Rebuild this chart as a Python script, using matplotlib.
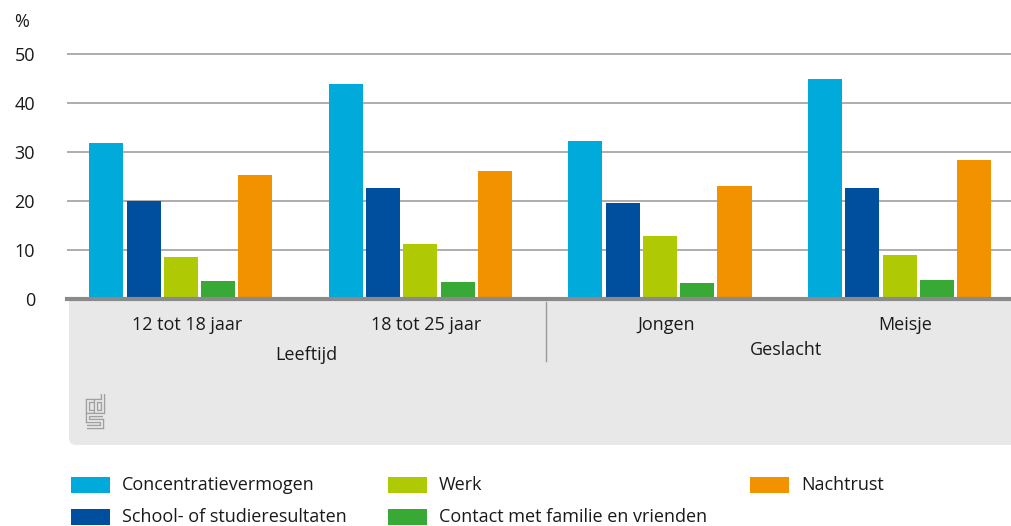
import numpy as np
import matplotlib
matplotlib.use('Agg')
import matplotlib.pyplot as plt
from matplotlib.patches import FancyBboxPatch, Rectangle
from matplotlib.transforms import blended_transform_factory

plt.rcParams['font.family'] = ['Open Sans', 'DejaVu Sans']

# Data
categories = ['12 tot 18 jaar', '18 tot 25 jaar', 'Jongen', 'Meisje']
groups = ['Leeftijd', 'Geslacht']
series = ['Concentratievermogen', 'School- of studieresultaten', 'Werk',
          'Contact met familie en vrienden', 'Nachtrust']
concentratie = [31.8, 43.9, 32.2, 44.9]
school = [19.9, 22.7, 19.6, 22.7]
werk = [8.6, 11.2, 12.9, 9.0]
contact = [3.7, 3.5, 3.3, 3.9]
nachtrust = [25.3, 26.1, 23.1, 28.4]
values = [concentratie, school, werk, contact, nachtrust]
colors = ['#00AADB', '#004E9E', '#AFCA05', '#38A935', '#F39200']

text_color = '#1a1a1a'
fs = 13
fig = plt.figure(figsize=(10.11, 5.26), dpi=100)

def fx(px):
    return px / 1011

def fy(py):
    return 1 - py / 526

# gray category panel with rounded bottom-left corner
panel = FancyBboxPatch((0.69, (526 - 445) / 100), 9.6, 1.44,
                       boxstyle='round,pad=0,rounding_size=0.07',
                       transform=fig.dpi_scale_trans, facecolor='#e8e8e8',
                       edgecolor='none', zorder=0)
fig.patches.append(panel)
fig.patches.append(Rectangle((0.69, 1.2), 9.6, 1.05, transform=fig.dpi_scale_trans,
                             facecolor='#e8e8e8', edgecolor='none', zorder=0))

ax = fig.add_axes([fx(67), fy(299), 1 - fx(67), fy(49.1) - fy(299)])
ax.set_facecolor('none')
ax.set_zorder(2)

x = np.arange(len(categories))
width = 0.142
step = 0.1555
for i, (name, vals, c) in enumerate(zip(series, values, colors)):
    ax.bar(x + (i - 2) * step, vals, width=width, color=c, label=name, zorder=2)

ax.set_ylim(0, 51)
ax.set_xlim(-0.475, 3.465)
ax.set_yticks([0, 10, 20, 30, 40, 50])
ax.yaxis.grid(True, color='#a0a0a0', linewidth=1.2)
ax.set_axisbelow(True)
ax.axhline(0, color='#8a8a8a', linewidth=3, zorder=3, clip_on=False)
for s in ax.spines.values():
    s.set_visible(False)
ax.tick_params(axis='y', length=0, pad=23, labelsize=fs, labelcolor=text_color)
ax.set_xticks(x + 0.025)
ax.set_xticklabels(categories)
ax.tick_params(axis='x', length=0, pad=12, labelsize=fs, labelcolor=text_color)

trans = blended_transform_factory(ax.transData, fig.transFigure)
ax.text(0.525, fy(355), groups[0], transform=trans, ha='center', va='center',
        fontsize=fs, color=text_color)
ax.text(2.525, fy(350), groups[1], transform=trans, ha='center', va='center',
        fontsize=fs, color=text_color)
ax.plot([1.525, 1.525], [fy(302), fy(361)], transform=trans, color='#9a9a9a',
        linewidth=1, clip_on=False)

fig.text(fx(14), fy(22), '%', fontsize=fs, color=text_color, va='center', ha='left')

# cbs logo
logo = [
    [(94, 401), (88, 401), (88, 412), (94, 412)],
    [(103, 394), (103, 412), (96, 412), (96, 401), (103, 401)],
    [(103, 415), (88, 415), (88, 421), (102, 421), (102, 427), (87, 427)],
]
for seg in logo:
    xs = [p[0] / 100 for p in seg]
    ys = [(526 - p[1]) / 100 for p in seg]
    for lw, c in [(3.2, '#a0a0a0'), (1.3, '#e8e8e8')]:
        fig.add_artist(plt.Line2D(xs, ys, transform=fig.dpi_scale_trans, color=c,
                                  linewidth=lw, solid_joinstyle='miter',
                                  solid_capstyle='butt'))

# legend
col_x = [71, 388, 750]
row_y = [485, 517]
for i, (name, c) in enumerate(zip(series, colors)):
    col, row = i // 2, i % 2
    px, py = col_x[col], row_y[row]
    fig.patches.append(Rectangle((fx(px), fy(py + 8)), fx(39), 16 / 526,
                                 transform=fig.transFigure, facecolor=c,
                                 edgecolor='none'))
    fig.text(fx(px + 51), fy(py), name, fontsize=fs, color=text_color,
             va='center', ha='left')

fig.savefig('out.png', dpi=100)
